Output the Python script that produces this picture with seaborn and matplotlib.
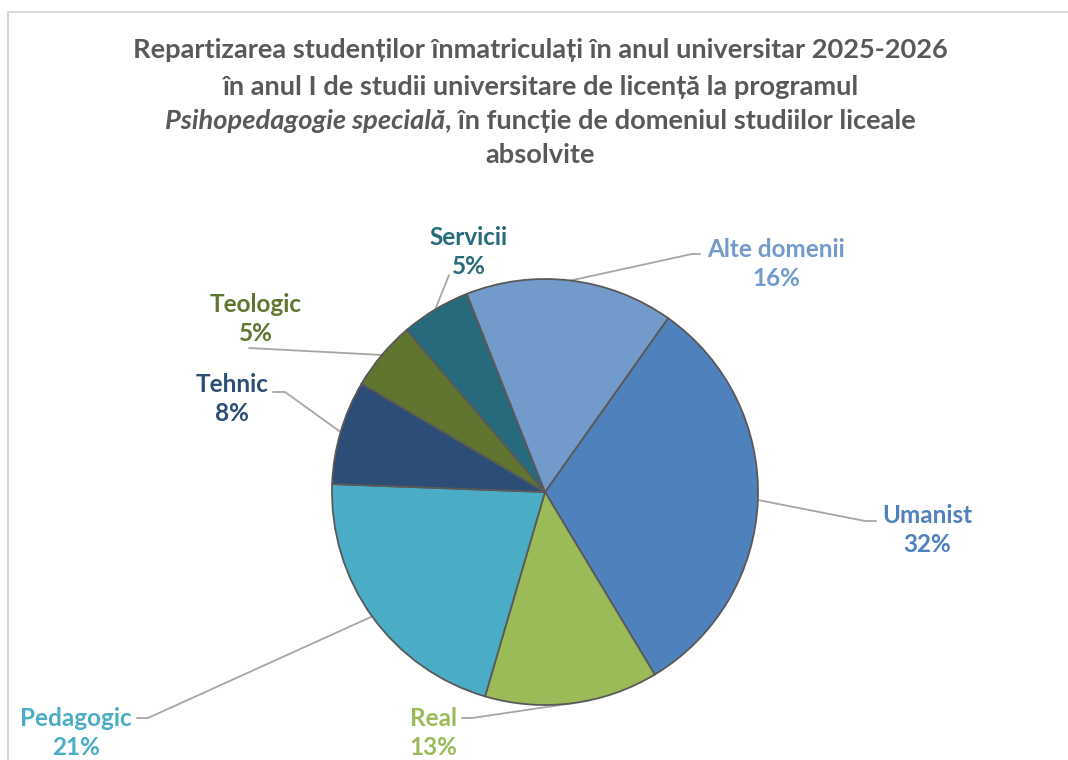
import matplotlib
matplotlib.use("Agg")
import matplotlib.pyplot as plt
import seaborn as sns
import numpy as np

# date
categorii = ['Umanist', 'Real', 'Pedagogic', 'Tehnic', 'Teologic', 'Servicii', 'Alte domenii']
studenti = [12, 5, 8, 3, 2, 2, 6]
culori = ['#4F81BD', '#9BBB59', '#4BACC6', '#2C4D75', '#5F7530', '#276A7C', '#729ACA']

# pozitii etichete (pixeli, y de sus in jos): centru text, cot linie, capat linie
etichete_pos = {
    'Umanist': ((927, 530), (865, 521), (876, 521)),
    'Real': ((433, 733), (472, 718), (462, 718)),
    'Pedagogic': ((76, 733), (148, 718), (137, 718)),
    'Tehnic': ((232, 399), (285, 392), (273, 392)),
    'Teologic': ((256, 319), (249, 348), (249, 348)),
    'Servicii': ((469, 252), (449, 275), (449, 275)),
    'Alte domenii': ((776, 264), (692, 254), (700, 254)),
}

sns.set_theme(style="white")
plt.rcParams['font.family'] = ['Lato', 'DejaVu Sans']

W, H = 1068, 760
fig = plt.figure(figsize=(W / 100, H / 100), dpi=100)
ax = fig.add_axes([0, 0, 1, 1])

cx, cy, R = 545, H - 492, 213
wedges, _ = ax.pie(studenti, colors=culori, startangle=90 - 35.3, counterclock=False,
                   center=(cx, cy), radius=R, frame=True,
                   wedgeprops=dict(edgecolor='#595959', linewidth=1.3))
ax.set_xlim(0, W)
ax.set_ylim(0, H)
ax.set_aspect('equal')
ax.axis('off')

total = sum(studenti)
for w, cat, val, col in zip(wedges, categorii, studenti, culori):
    mid = np.deg2rad((w.theta1 + w.theta2) / 2)
    x0, y0 = cx + R * np.cos(mid), cy + R * np.sin(mid)
    (tx, ty), (ex, ey), (fx, fy) = etichete_pos[cat]
    ax.plot([x0, ex, fx], [y0, H - ey, H - fy], color='#A6A6A6', lw=1.3, zorder=0.5)
    ax.text(tx, H - ty, f"{cat}\n{round(val / total * 100)}%", color=col,
            ha='center', va='center', fontsize=17.5, fontweight='bold', linespacing=1.3)

# chenar
ax.plot([8, 8, W], [0, H - 12, H - 12], color='#D9D9D9', lw=1.5, clip_on=False)

# titlu
tc = '#595959'
tfs = 19.6
fig.text(540, H - 50, "Repartizarea studenților înmatriculați în anul universitar 2025-2026",
         transform=None, ha='center', va='center', fontsize=tfs, fontweight='bold', color=tc)
fig.text(540, H - 87, "în anul I de studii universitare de licență la programul",
         transform=None, ha='center', va='center', fontsize=tfs, fontweight='bold', color=tc)
t1 = fig.text(0, H - 121, "Psihopedagogie specială", transform=None, ha='left', va='center',
              fontsize=tfs, fontweight='bold', style='italic', color=tc)
t2 = fig.text(0, H - 121, ", în funcție de domeniul studiilor liceale", transform=None,
              ha='left', va='center', fontsize=tfs, fontweight='bold', color=tc)
r = fig.canvas.get_renderer()
w1 = t1.get_window_extent(r).width
w2 = t2.get_window_extent(r).width
x_start = 540 - (w1 + w2) / 2
t1.set_x(x_start)
t2.set_x(x_start + w1)
fig.text(540, H - 155, "absolvite", transform=None, ha='center', va='center',
         fontsize=tfs, fontweight='bold', color=tc)

fig.savefig('out.png', dpi=100)
